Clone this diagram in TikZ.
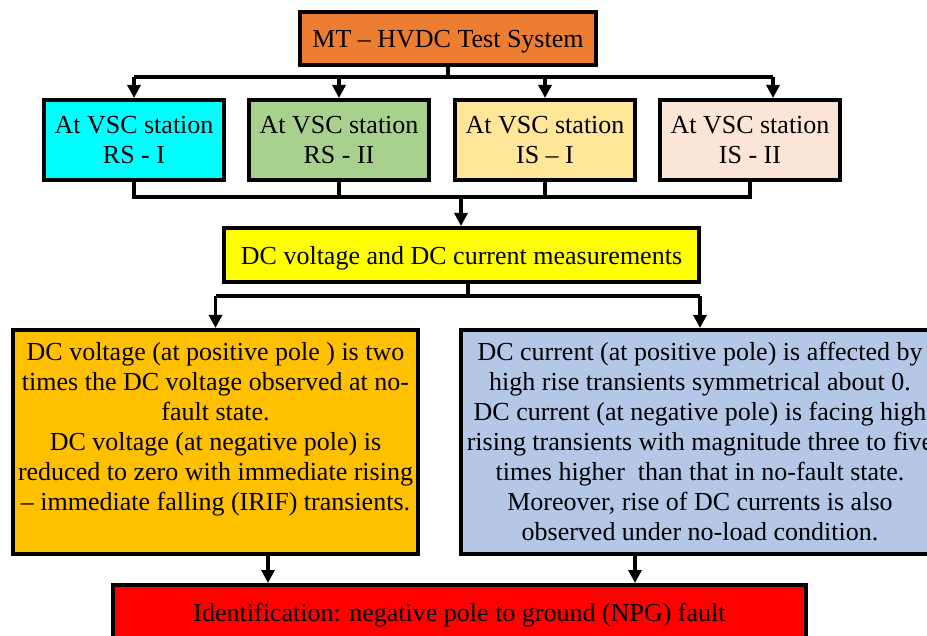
\documentclass[tikz,border=0pt]{standalone}
\usepackage{fontspec}
\setmainfont{Liberation Serif}
\usetikzlibrary{arrows.meta,calc}

\definecolor{cTop}{HTML}{ED7D31}
\definecolor{cCyan}{HTML}{00FFFF}
\definecolor{cGreen}{HTML}{A9D18E}
\definecolor{cSand}{HTML}{FFE699}
\definecolor{cPeach}{HTML}{FBE5D6}
\definecolor{cYellow}{HTML}{FFFF00}
\definecolor{cGold}{HTML}{FFC000}
\definecolor{cBlue}{HTML}{B4C7E7}
\definecolor{cRed}{HTML}{FF0000}

\begin{document}
\begin{tikzpicture}[x=1pt,y=-1pt,
  box/.style={draw=black,line width=4pt,inner sep=0pt,align=center,
              font=\fontsize{26}{30}\selectfont},
  oneline/.style={box,text depth=0pt},
  station/.style={oneline,minimum width=180pt,minimum height=80pt},
  link/.style={line width=3.5pt},
  arr/.style={line width=3.5pt,-{Triangle[width=13pt,length=13pt]}}]
\useasboundingbox (0,0) rectangle (927,636);

% boxes
\node[oneline,fill=cTop,minimum width=296pt,minimum height=53pt] (top) at (448,38.5)
  {MT – HVDC Test System};

\node[station,fill=cCyan]  (s1) at (134,140) {At VSC station\\RS - I};
\node[station,fill=cGreen] (s2) at (339,140) {At VSC station\\RS - II};
\node[station,fill=cSand]  (s3) at (545,140) {At VSC station\\IS – I};
\node[station,fill=cPeach] (s4) at (750,140) {At VSC station\\IS - II};

\node[oneline,fill=cYellow,minimum width=475pt,minimum height=54pt] (meas) at (461.5,255)
  {DC voltage and DC current measurements};

\node[box,fill=cGold] (volt) at (215.5,442)
  {\parbox[c][224pt][t]{405pt}{\centering\vspace*{12pt}%
   DC voltage (at positive pole ) is two\\
   times the DC voltage observed at no-\\
   fault state.\\
   DC voltage (at negative pole) is\\
   reduced to zero with immediate rising\\
   – immediate falling (IRIF) transients.}};

\node[box,fill=cBlue] (curr) at (700,442)
  {\parbox[c][224pt][t]{478pt}{\centering\vspace*{12pt}%
   DC current (at positive pole) is affected by\\
   high rise transients symmetrical about 0.\\
   DC current (at negative pole) is facing high\\
   rising transients with magnitude three to five\\
   times higher\ \ than that in no-fault state.\\
   Moreover, rise of DC currents is also\\
   observed under no-load condition.}};

\node[oneline,fill=cRed,minimum width=693pt,minimum height=55pt] (npg) at (459.5,612.5)
  {Identification: negative pole to ground (NPG) fault};

% distribution bus below the test system
\coordinate (busA) at (0,77);
\coordinate (tap4) at (773,77);
\draw[link] (top.south) -- (top.south |- busA);
\draw[link] (s1.north |- busA) -- (tap4);
\draw[arr] (s1.north |- busA) -- (s1.north);
\draw[arr] (s2.north |- busA) -- (s2.north);
\draw[arr] (s3.north |- busA) -- (s3.north);
\draw[arr] (tap4) -- (tap4 |- s4.north);

% collecting bus below the stations
\coordinate (busB) at (461,197);
\draw[link] (s1.south) -- (s1.south |- busB) -- (s4.south |- busB) -- (s4.south);
\draw[link] (s2.south) -- (s2.south |- busB);
\draw[link] (s3.south) -- (s3.south |- busB);
\draw[arr] (busB) -- (meas.north -| busB);

% split below the measurements
\coordinate (busC) at (468,296);
\draw[link] (meas.south -| busC) -- (busC);
\draw[link] (volt.north |- busC) -- (curr.north |- busC);
\draw[arr] (volt.north |- busC) -- (volt.north);
\draw[arr] (curr.north |- busC) -- (curr.north);

% into the identification box
\coordinate (dropL) at (268,554);
\coordinate (dropR) at (635,554);
\draw[arr] (volt.south -| dropL) -- (npg.north -| dropL);
\draw[arr] (curr.south -| dropR) -- (npg.north -| dropR);
\end{tikzpicture}
\end{document}
